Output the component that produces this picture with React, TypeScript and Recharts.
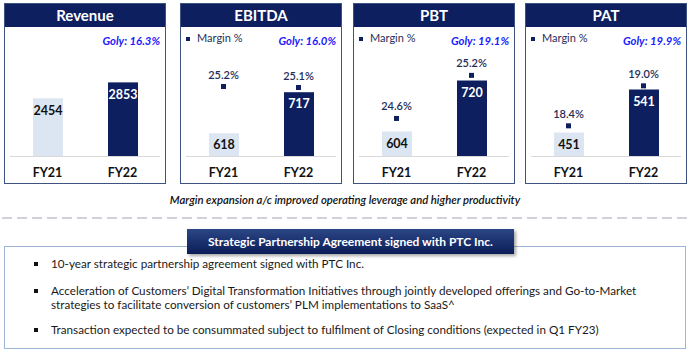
import { ComposedChart, Bar, Line, XAxis, YAxis, LabelList } from "recharts"

const years = ["FY21", "FY22"]
const revenue = [2454, 2853]
const ebitda = [618, 717]
const ebitdaMargin = [25.2, 25.1]
const pbt = [604, 720]
const pbtMargin = [24.6, 25.2]
const pat = [451, 541]
const patMargin = [18.4, 19.0]

const panelTitles = ["Revenue", "EBITDA", "PBT", "PAT"]
const golyValues = ["16.3%", "16.0%", "19.1%", "19.9%"]

const bullets = [
  "10-year strategic partnership agreement signed with PTC Inc.",
  "Acceleration of Customers\u2019 Digital Transformation Initiatives through jointly developed offerings and Go-to-Market strategies to facilitate conversion of customers\u2019 PLM implementations to SaaS^",
  "Transaction expected to be consummated subject to fulfilment of Closing conditions (expected in Q1 FY23)"
]

const NAVY = "#0d1f5e"
const LIGHT = "#dce6f2"
const FONT = "Lato, sans-serif"

function buildRows(values: number[], margins?: number[]) {
  return years.map((y, i) => ({
    year: y,
    value: values[i],
    margin: margins ? margins[i] : undefined
  }))
}

const BarValueLabel = (props: any) => {
  const { x, y, width, value, index } = props
  return (
    <text
      x={x + width / 2}
      y={y + 13}
      textAnchor="middle"
      dominantBaseline="middle"
      fontFamily={FONT}
      fontSize={12.5}
      fontWeight={700}
      fill={index === 0 ? "#111" : "#fff"}
    >
      {value}
    </text>
  )
}

const MarginDot = (props: any) => {
  const { cx, cy, index } = props
  if (cx == null || cy == null) return <g key={index} />
  return <rect key={index} x={cx - 2.5} y={cy - 2.5} width={5} height={5} fill={NAVY} />
}

function Panel({
  idx,
  left,
  values,
  margins,
  barDomain,
  marginDomain
}: {
  idx: number
  left: number
  values: number[]
  margins?: number[]
  barDomain: [number, number]
  marginDomain?: [number, number]
}) {
  const rows = buildRows(values, margins)
  return (
    <div
      style={{
        position: "absolute",
        left,
        top: 3,
        width: 162,
        height: 181,
        border: "1.5px solid #3f5382",
        boxSizing: "border-box",
        background: "#fff"
      }}
    >
      <div
        style={{
          height: 23,
          background: NAVY,
          color: "#fff",
          fontFamily: FONT,
          fontWeight: 700,
          fontSize: 15,
          textAlign: "center",
          lineHeight: "23px"
        }}
      >
        {panelTitles[idx]}
      </div>
      {margins && (
        <div
          style={{
            position: "absolute",
            left: 5,
            top: 27,
            fontFamily: FONT,
            fontSize: 11,
            color: "#1f2d5a",
            lineHeight: "14px"
          }}
        >
          <span
            style={{
              display: "inline-block",
              width: 4,
              height: 4,
              background: NAVY,
              marginRight: 7,
              verticalAlign: "middle"
            }}
          />
          Margin %
        </div>
      )}
      <div
        style={{
          position: "absolute",
          right: 5,
          top: 30,
          fontFamily: FONT,
          fontSize: 11.3,
          fontStyle: "italic",
          fontWeight: 700,
          color: "#1a1aff",
          lineHeight: "14px"
        }}
      >
        Goly: {golyValues[idx]}
      </div>
      <div style={{ position: "absolute", left: 0, top: 23 }}>
        <ComposedChart
          width={159}
          height={156}
          data={rows}
          margin={{ top: 17.5, right: 4, bottom: 0, left: 5 }}
        >
          <XAxis
            dataKey="year"
            axisLine={{ stroke: "#d9d9d9" }}
            tickLine={false}
            tickMargin={6}
            height={26.5}
            tick={{ fontFamily: FONT, fontSize: 12.5, fontWeight: 700, fill: "#111" }}
          />
          <YAxis yAxisId="v" hide domain={barDomain} allowDataOverflow />
          <YAxis yAxisId="m" hide domain={marginDomain || [0, 1]} allowDataOverflow />
          <Bar yAxisId="v" dataKey="value" barSize={30} isAnimationActive={false}
            shape={(p: any) => (
              <rect x={p.x} y={p.y} width={p.width} height={p.height}
                fill={p.index === 0 ? LIGHT : NAVY} />
            )}
          >
            <LabelList dataKey="value" content={BarValueLabel} />
          </Bar>
          {margins && (
            <Line
              yAxisId="m"
              dataKey="margin"
              stroke="none"
              dot={MarginDot}
              activeDot={false}
              isAnimationActive={false}
            >
              <LabelList
                dataKey="margin"
                position="top"
                offset={8}
                formatter={(v: any) => Number(v).toFixed(1) + "%"}
                style={{ fontFamily: FONT, fontSize: 11, fontWeight: 600, fill: "#1f2d5a" }}
              />
            </Line>
          )}
        </ComposedChart>
      </div>
    </div>
  )
}

export default function App() {
  return (
    <div
      style={{
        position: "absolute",
        left: 0,
        top: 0,
        width: 690,
        height: 353,
        background: "#fff",
        overflow: "hidden",
        fontFamily: FONT
      }}
    >
      <Panel idx={0} left={4} values={revenue} barDomain={[1000, 3800]} />
      <Panel idx={1} left={180} values={ebitda} margins={ebitdaMargin}
        barDomain={[562, 832]} marginDomain={[18.2, 29.4]} />
      <Panel idx={2} left={353} values={pbt} margins={pbtMargin}
        barDomain={[547, 802]} marginDomain={[24.07, 25.63]} />
      <Panel idx={3} left={525} values={pat} margins={patMargin}
        barDomain={[401, 635]} marginDomain={[17.94, 19.62]} />

      <div
        style={{
          position: "absolute",
          left: 0,
          width: 690,
          top: 192,
          textAlign: "center",
          fontSize: 11.3,
          fontStyle: "italic",
          fontWeight: 600,
          color: "#111",
          lineHeight: "16px"
        }}
      >
        Margin expansion a/c improved operating leverage and higher productivity
      </div>

      <svg style={{ position: "absolute", left: 0, top: 216 }} width={690} height={4}>
        <line x1={2} y1={2} x2={688} y2={2} stroke="#cfd2d8" strokeWidth={2} strokeDasharray="10 5" />
      </svg>

      <div
        style={{
          position: "absolute",
          left: 4,
          top: 246,
          width: 682,
          height: 103,
          border: "1px solid #9db5d6",
          boxSizing: "border-box"
        }}
      />

      <div
        style={{
          position: "absolute",
          left: 187,
          top: 229,
          width: 327,
          height: 25,
          background: "linear-gradient(#2c4686, #0b1d58)",
          boxShadow: "2px 2px 3px rgba(0,0,0,0.35)",
          color: "#fff",
          fontWeight: 700,
          fontSize: 12,
          textAlign: "center",
          lineHeight: "25px"
        }}
      >
        Strategic Partnership Agreement signed with PTC Inc.
      </div>

      {bullets.map((b, i) => (
        <div
          key={i}
          style={{
            position: "absolute",
            left: 51,
            top: [257, 284, 323][i],
            width: 610,
            fontSize: 11.7,
            color: "#1a1a1a",
            lineHeight: "13.5px"
          }}
        >
          <span
            style={{
              position: "absolute",
              left: -17,
              top: 5,
              width: 4,
              height: 4,
              background: "#111"
            }}
          />
          {b}
        </div>
      ))}
    </div>
  )
}
